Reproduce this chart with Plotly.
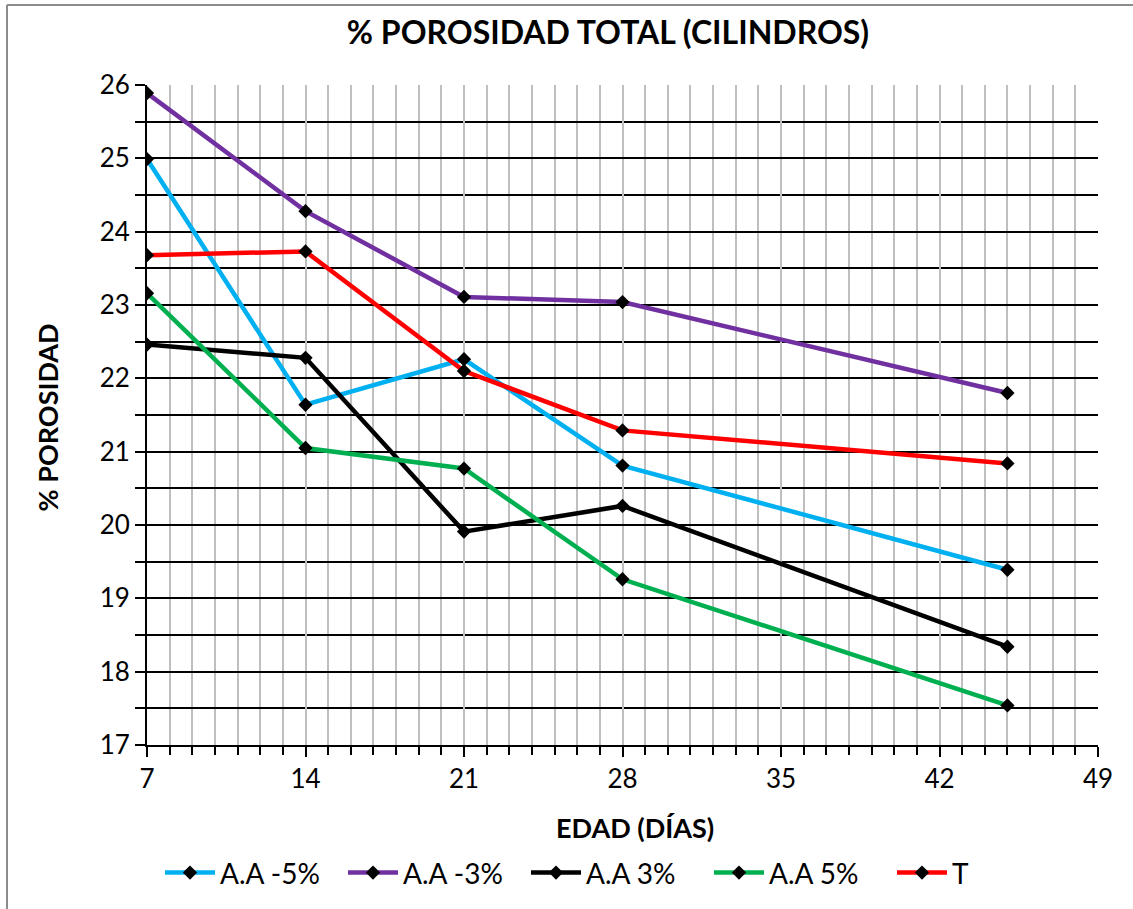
import plotly.graph_objects as go

# Edad de ensayo (días)
edad = [7, 14, 21, 28, 45]

# % porosidad total por mezcla
aa_m5 = [24.99, 21.64, 22.26, 20.81, 19.39]
aa_m3 = [25.89, 24.28, 23.11, 23.04, 21.80]
aa_p3 = [22.46, 22.28, 19.91, 20.26, 18.34]
aa_p5 = [23.16, 21.05, 20.77, 19.26, 17.54]
t_ref = [23.68, 23.73, 22.10, 21.29, 20.84]

series = [
    ("A.A -5%", aa_m5, "#00b0f0"),
    ("A.A -3%", aa_m3, "#7030a0"),
    ("A.A 3%", aa_p3, "#000000"),
    ("A.A 5%", aa_p5, "#00b050"),
    ("T", t_ref, "#ff0000"),
]

FONT = "Lato"

fig = go.Figure()
for name, vals, color in series:
    fig.add_trace(go.Scatter(
        x=edad, y=vals, name=name, mode="lines+markers",
        line=dict(color=color, width=4.5),
        marker=dict(symbol="diamond", size=11, color="black"),
    ))

fig.update_layout(
    width=1133, height=909,
    margin=dict(l=147, r=35, t=85, b=163),
    paper_bgcolor="white", plot_bgcolor="white",
    font=dict(family=FONT, color="black"),
    title=dict(text="<b>% POROSIDAD TOTAL (CILINDROS)</b>",
               x=608 / 1133, xanchor="center", y=1 - 33 / 909, yanchor="middle",
               font=dict(size=32, family=FONT)),
    showlegend=True,
    legend=dict(orientation="h", x=(160 - 147) / 951, xanchor="left", y=-0.192, yanchor="middle",
                font=dict(size=28, family=FONT), itemwidth=50, entrywidth=118,
                tracegroupgap=0, bgcolor="rgba(0,0,0,0)"),
)

fig.update_xaxes(
    range=[7, 49], tick0=7, dtick=7,
    showgrid=True, gridcolor="#bfbfbf", gridwidth=2,
    showline=True, linecolor="black", linewidth=2,
    ticks="outside", ticklen=10, tickwidth=2, tickcolor="black",
    tickfont=dict(size=26, family=FONT),
    minor=dict(dtick=1, tick0=7, showgrid=True, gridcolor="#bfbfbf", gridwidth=2,
               ticks="outside", ticklen=8, tickwidth=2, tickcolor="black"),
    zeroline=False,
)
fig.update_yaxes(
    range=[17, 26], tick0=17, dtick=1,
    showgrid=True, gridcolor="black", gridwidth=2,
    showline=True, linecolor="black", linewidth=2,
    ticks="outside", ticklen=10, tickwidth=2, tickcolor="black",
    tickfont=dict(size=26, family=FONT),
    minor=dict(dtick=0.5, tick0=17, showgrid=True, gridcolor="black", gridwidth=2,
               ticks="outside", ticklen=10, tickwidth=2, tickcolor="black"),
    zeroline=False,
)

# axis titles
fig.add_annotation(text="<b>EDAD (DÍAS)</b>", xref="paper", yref="paper",
                   x=(635 - 147) / 951, y=(746 - 829) / 661, showarrow=False,
                   xanchor="center", yanchor="middle", font=dict(size=27, family=FONT))
fig.add_annotation(text="<b>% POROSIDAD</b>", xref="paper", yref="paper",
                   x=(47 - 147) / 951, y=(746 - 418) / 661, showarrow=False, textangle=-90,
                   xanchor="center", yanchor="middle", font=dict(size=27, family=FONT))

# chart frame (left and top edges visible)
fig.add_shape(type="line", xref="paper", yref="paper",
              x0=(7 - 147) / 951, x1=(7 - 147) / 951, y0=1 + 80 / 661, y1=(746 - 920) / 661,
              line=dict(color="#8c8c8c", width=2))
fig.add_shape(type="line", xref="paper", yref="paper",
              x0=(7 - 147) / 951, x1=(1140 - 147) / 951, y0=1 + 80 / 661, y1=1 + 80 / 661,
              line=dict(color="#8c8c8c", width=2))

fig.write_html("out.html")
